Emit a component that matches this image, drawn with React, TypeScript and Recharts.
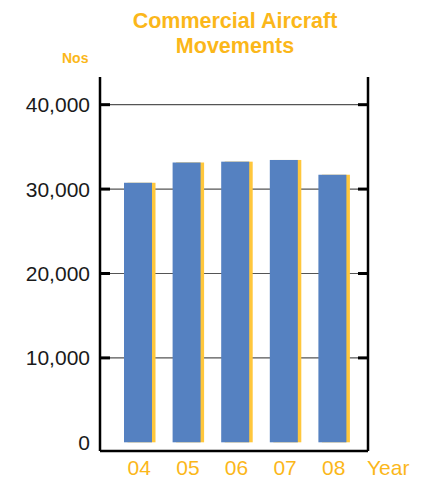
import React from "react";
import { BarChart, Bar, XAxis, YAxis, CartesianGrid, Label } from "recharts";

const years = ["04", "05", "06", "07", "08"];
const movements = [30750, 33150, 33250, 33450, 31700];
const leftTicks = [0, 10000, 20000, 30000, 40000];
const markTicks = [10000, 20000, 30000, 40000];
const yDomain = [-1030, 43280];

const data = years.map((y, i) => ({ year: y, value: movements[i] }));

const FONT = '"Liberation Sans", Arial, Helvetica, sans-serif';
const ORANGE = "#FBB71A";
const BLUE = "#5581C1";
const YELLOW = "#FFC73C";
const LEFT_MARGIN = 10;
const MARK_LEN = 10;
const SHADOW = 3.5;

const fmt = (v: number) => v.toLocaleString("en-US");

const LeftTick = (props: any) => {
  const { x, y, payload } = props;
  return (
    <text x={x} y={y} dy="0.36em" textAnchor="end" fontSize={21} fill="#1a1a1a" fontFamily={FONT}>
      {fmt(payload.value)}
    </text>
  );
};

const GridLine = (props: any) => {
  const { x1, x2, y1, y2 } = props;
  const lx = Math.min(x1, x2);
  const rx = Math.max(x1, x2);
  return (
    <g>
      <line x1={lx} x2={rx} y1={y1} y2={y2} stroke="#555" strokeWidth={1.2} />
      <rect x={lx} y={y1 - 1.5} width={MARK_LEN} height={3} fill="#000" />
      <rect x={rx - MARK_LEN} y={y1 - 1.5} width={MARK_LEN} height={3} fill="#000" />
    </g>
  );
};

const BarShape = (props: any) => {
  const { x, y, width, height } = props;
  if (height == null || width == null) return null;
  return (
    <g>
      <rect x={x + SHADOW} y={y} width={width - SHADOW} height={height} fill={YELLOW} />
      <rect x={x} y={y} width={width - SHADOW} height={height} fill={BLUE} />
    </g>
  );
};

export default function App() {
  return (
    <div style={{ position: "relative", width: 423, height: 477, fontFamily: FONT }}>
      <style>{`body{margin:0}`}</style>
      <div
        style={{
          position: "absolute",
          left: 35,
          top: 8.5,
          width: 400,
          textAlign: "center",
          color: ORANGE,
          fontWeight: "bold",
          fontSize: 21.5,
          lineHeight: "25px",
        }}
      >
        Commercial Aircraft
        <br />
        Movements
      </div>
      <div
        style={{
          position: "absolute",
          left: 62,
          top: 50,
          color: ORANGE,
          fontWeight: "bold",
          fontSize: 14,
          lineHeight: "16px",
        }}
      >
        Nos
      </div>
      <BarChart width={423} height={477} data={data} margin={{ top: 77, right: 54, bottom: 0, left: 0 }}>
        <CartesianGrid
          yAxisId="left"
          vertical={false}
          horizontal={<GridLine />}
          horizontalValues={markTicks}
        />
        <XAxis
          dataKey="year"
          axisLine={{ stroke: "#000", strokeWidth: 2.5 }}
          tickLine={false}
          tickSize={0}
          tickMargin={9}
          height={26}
          padding={{ left: 15, right: 10 }}
          tick={{ fill: ORANGE, fontSize: 21, fontFamily: FONT }}
          interval={0}
        >
          <Label value="Year" position="right" offset={-1} dy={3.5} fill={ORANGE} fontSize={21} fontFamily={FONT} />
        </XAxis>
        <YAxis
          yAxisId="left"
          orientation="left"
          width={100}
          domain={yDomain}
          ticks={leftTicks}
          allowDataOverflow
          axisLine={{ stroke: "#000", strokeWidth: 2.5 }}
          tickLine={false}
          tickSize={0}
          tickMargin={LEFT_MARGIN}
          tick={<LeftTick />}
          interval={0}
        />
        <YAxis
          yAxisId="right"
          orientation="right"
          width={1}
          domain={yDomain}
          ticks={markTicks}
          allowDataOverflow
          axisLine={{ stroke: "#000", strokeWidth: 2.5 }}
          tickLine={false}
          tick={false}
          interval={0}
        />
        <Bar yAxisId="left" dataKey="value" barSize={31.5} shape={<BarShape />} isAnimationActive={false} />
      </BarChart>
    </div>
  );
}
